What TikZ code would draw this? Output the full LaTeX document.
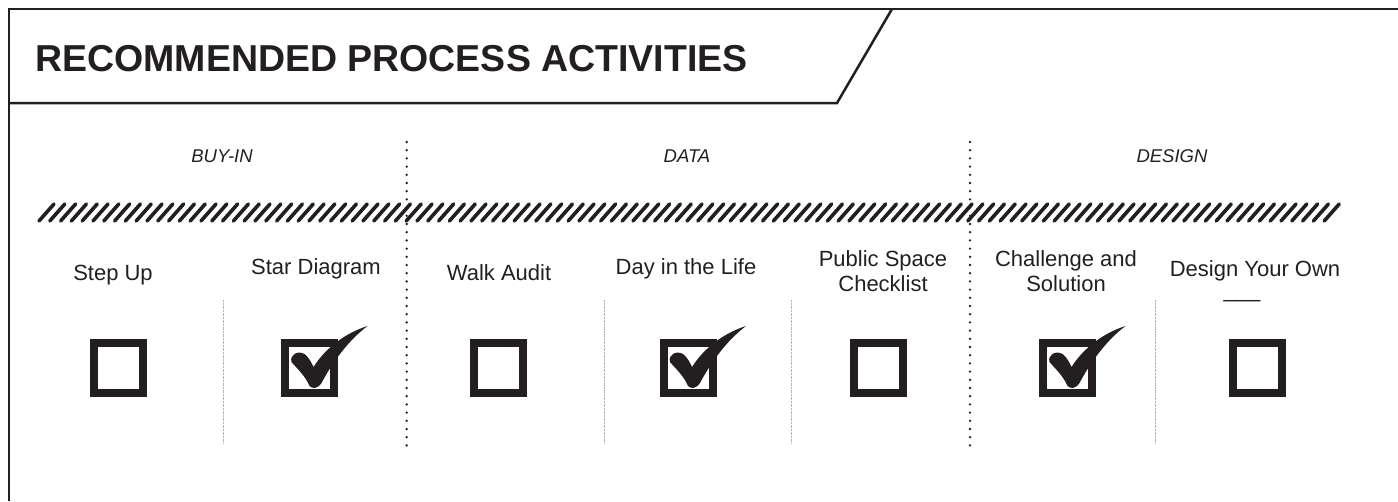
\documentclass[tikz,border=0pt]{standalone}
\usepackage{fontspec}
\setmainfont{Liberation Sans}
\definecolor{ink}{HTML}{231F20}
\begin{document}
\begin{tikzpicture}[x=1pt,y=-1pt,
  frame/.style={draw=ink,line width=2.5pt,line join=miter},
  sect/.style={font=\fontsize{18.5}{20}\selectfont\itshape,text=ink,anchor=base,inner sep=0pt},
  lbl/.style={font=\fontsize{22}{23}\selectfont,text=ink,anchor=base,inner sep=0pt},
  cbox/.style={draw=ink,line width=8pt,minimum width=49pt,minimum height=50pt,inner sep=0pt},
  bigdot/.style={draw=ink,line width=2.6pt,line cap=round,dash pattern=on 0pt off 8.2pt},
  finedot/.style={draw=gray!60,line width=0.7pt,dash pattern=on 0.7pt off 0.7pt},
  hatch/.style={draw=ink,line width=3.6pt,line cap=round},
  tickmark/.pic={\fill[ink] (0,18) .. controls (-4,8) and (-13,0) .. (-18,-6)
     .. controls (-20,-13) and (-12,-18) .. (-5,-14)
     .. controls (0,-10) and (2,-5) .. (4,-1)
     .. controls (16,-20) and (36,-35) .. (58,-42)
     .. controls (38,-27) and (22,-4) .. (12,15)
     .. controls (8,21) and (3,21) .. (0,18) -- cycle;}]
\useasboundingbox (0,0) rectangle (1398,501);
% frame and header
\coordinate (fbl) at (9,501);
\coordinate (ftl) at (9,9);
\coordinate (ftr) at (1398,9);
\coordinate (st) at (892,9);
\coordinate (sb) at (837,103);
\coordinate (hb) at (9,103);
\draw[frame] (fbl) -- (ftl) -- (ftr);
\draw[frame] (st) -- (sb) -- (hb);
\node[anchor=base west,inner sep=0pt,text=ink,font=\fontsize{37.5}{40}\selectfont\bfseries] (title) at (35,71) {RECOMMENDED PROCESS ACTIVITIES};
% sections
\node[sect] (buyin) at (222,162) {BUY-IN};
\node[sect] (data) at (687,162) {DATA};
\node[sect] (design) at (1172,162) {DESIGN};
% hatch band
\foreach \i in {0,...,119} \draw[hatch] ({39+10.8*\i},221) -- ++(15,-17);
% separators
\coordinate (d1t) at (406.7,142); \coordinate (d1b) at (406.7,448);
\coordinate (d2t) at (970,142); \coordinate (d2b) at (970,448);
\draw[bigdot] (d1t) -- (d1b);
\draw[bigdot] (d2t) -- (d2b);
\foreach \x/\n in {223/f1,604/f2,791/f3,1155/f4}{
  \coordinate (\n t) at (\x,300); \coordinate (\n b) at (\x,443);
  \draw[finedot] (\n t) -- (\n b);}
% labels
\node[lbl] (l1) at (113,280) {Step Up};
\node[lbl] (l2) at (316,274) {Star Diagram};
\node[lbl] (l3) at (499,280) {Walk Audit};
\node[lbl] (l4) at (686,274) {Day in the Life};
\node[lbl] (l5a) at (883,266) {Public Space};
\node[lbl] (l5b) at (883,291) {Checklist};
\node[lbl] (l6a) at (1066,266) {Challenge and};
\node[lbl] (l6b) at (1066,291) {Solution};
\node[lbl] (l7) at (1255,276) {Design Your Own};
\node[lbl] (l7b) at (1242,297) {\_\_\_};
% boxes
\node[cbox] (b1) at (118,368) {};
\node[cbox] (b2) at (309.5,368) {};
\node[cbox] (b3) at (498.5,368) {};
\node[cbox] (b4) at (688,368) {};
\node[cbox] (b5) at (878,368) {};
\node[cbox] (b6) at (1067.5,368) {};
\node[cbox] (b7) at (1257,368) {};
\path (b2.center) pic {tickmark};
\path (b4.center) pic {tickmark};
\path (b6.center) pic {tickmark};
\end{tikzpicture}
\end{document}
